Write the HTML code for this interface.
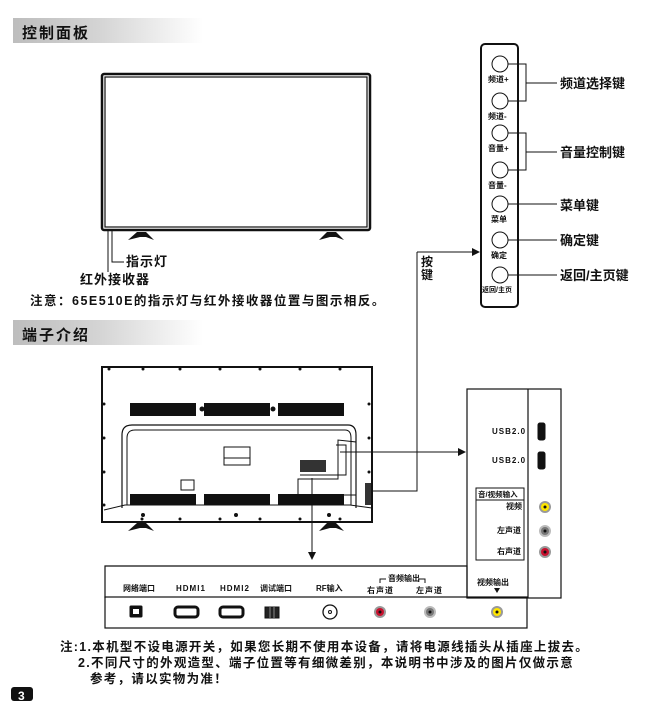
<!DOCTYPE html>
<html><head><meta charset="utf-8">
<style>
body{margin:0;width:668px;height:699px;background:#fff;position:relative;overflow:hidden;font-family:"Liberation Sans","Noto Sans CJK SC",sans-serif;color:#111}
.t{position:absolute;white-space:nowrap;line-height:1}
.hdr{position:absolute;left:13px;width:190px;height:25px;background:linear-gradient(90deg,#bdbdbd 0%,#d4d4d4 45%,#fff 100%)}
.hdr span{position:absolute;left:9px;top:4px;font-size:15px;font-weight:bold;letter-spacing:2px}
.s{font-size:8px;font-weight:bold}
.m{font-size:13px;font-weight:bold}
</style></head><body>
<div class="hdr" style="top:18px"><span>控制面板</span></div>
<div class="hdr" style="top:320px"><span>端子介绍</span></div>

<svg width="668" height="699" style="position:absolute;left:0;top:0" fill="none" stroke="#111">
<defs><pattern id="g" width="4" height="2" patternUnits="userSpaceOnUse"><rect width="4" height="1" fill="#333"/><rect y="1" width="4" height="1" fill="#888"/></pattern></defs>
<!-- front TV -->
<rect x="102" y="74" width="268" height="156" rx="2" stroke-width="2.5"/>
<rect x="105" y="77" width="262" height="150" stroke-width="1.2"/>
<path d="M128 240 L137 232 L146 232 L154 240 L146 237 L140 237 Z" fill="#111" stroke="none"/>
<path d="M319 240 L327 232 L336 232 L344 240 L336 237 L330 237 Z" fill="#111" stroke="none"/>
<path d="M112 231 V262 H124" stroke-width="1"/>
<path d="M108 231 V272" stroke-width="1"/>
<!-- control panel -->
<rect x="481" y="44" width="37" height="263" rx="4" stroke-width="2"/>
<g stroke-width="1" fill="#fff">
<circle cx="500" cy="64" r="8"/><circle cx="500" cy="101" r="8"/><circle cx="500" cy="133" r="8"/><circle cx="500" cy="170" r="8"/><circle cx="500" cy="204" r="8"/><circle cx="500" cy="240" r="8"/><circle cx="500" cy="275" r="8"/>
</g>
<g stroke-width="1">
<path d="M508 64 H526 V101 H508 M526 83 H557"/>
<path d="M508 133 H526 V170 H508 M526 152 H557"/>
<path d="M508 204 H557 M508 240 H557 M508 275 H557"/>
<path d="M417 252 H472 M417 252 V491 H373"/>
<path d="M340 452 H458"/>
<path d="M312 478 V552"/>
</g>
<path d="M472 248 L480 252 L472 256 Z M458 448 L466 452 L458 456 Z M308 552 L312 560 L316 552 Z" fill="#111" stroke="none"/>
<!-- back TV -->
<rect x="102" y="367" width="270" height="155" stroke-width="2"/>
<path d="M104 510 L125 505 L350 505 L372 508" stroke-width="1"/>
<path d="M122 508 V435 Q122 425 132 425 H348 Q356 425 356 435 V508" stroke-width="1.2"/>
<path d="M127 505 V438 Q127 430 135 430 H345 Q351 430 351 438 V505" stroke-width="1"/>
<g fill="url(#g)" stroke="none">
<rect x="130" y="403" width="66" height="13"/><rect x="204" y="403" width="66" height="13"/><rect x="278" y="403" width="66" height="13"/>
<rect x="130" y="494" width="66" height="11"/><rect x="204" y="494" width="66" height="11"/><rect x="278" y="494" width="66" height="11"/>
</g>
<g fill="#333" stroke="none">
<rect x="300" y="460" width="26" height="12"/>
<rect x="365" y="483" width="6" height="22"/>
</g>
<g stroke-width="1">
<rect x="224" y="447" width="26" height="18"/>
<path d="M224 458 H250"/>
<rect x="181" y="480" width="13" height="10"/>
<path d="M338 440 V479 H298 V495 H356 V442 Z"/>
<path d="M336 445 H346 V475 H300"/>
</g>
<g fill="#111" stroke="none">
<circle cx="109" cy="369" r="1.5"/><circle cx="143" cy="369" r="1.5"/><circle cx="180" cy="369" r="1.5"/><circle cx="220" cy="369" r="1.5"/><circle cx="260" cy="369" r="1.5"/><circle cx="300" cy="369" r="1.5"/><circle cx="340" cy="369" r="1.5"/>
<circle cx="104" cy="404" r="1.5"/><circle cx="104" cy="438" r="1.5"/><circle cx="104" cy="472" r="1.5"/><circle cx="104" cy="505" r="1.5"/>
<circle cx="369" cy="404" r="1.5"/><circle cx="369" cy="438" r="1.5"/><circle cx="369" cy="472" r="1.5"/>
<circle cx="142" cy="519" r="1.5"/><circle cx="180" cy="519" r="1.5"/><circle cx="220" cy="519" r="1.5"/><circle cx="260" cy="519" r="1.5"/><circle cx="300" cy="519" r="1.5"/><circle cx="340" cy="519" r="1.5"/>
<circle cx="143" cy="515" r="2"/><circle cx="329" cy="515" r="2"/><circle cx="236" cy="515" r="2"/>
<circle cx="202" cy="409" r="2.5"/><circle cx="273" cy="409" r="2.5"/>
<path d="M128 531 L137 523 L146 523 L154 531 L146 528 L140 528 Z"/>
<path d="M319 531 L327 523 L336 523 L344 531 L336 528 L330 528 Z"/>
</g>
<!-- side panel -->
<rect x="467" y="389" width="94" height="209" stroke-width="1.2"/>
<path d="M528 389 V598" stroke-width="1.2"/>
<rect x="476" y="488" width="48" height="72" stroke-width="1"/>
<path d="M476 500 H524" stroke-width="1"/>
<rect x="538" y="423" width="7" height="17" rx="2" fill="#111"/>
<rect x="538" y="452" width="7" height="17" rx="2" fill="#111"/>
<!-- bottom panel -->
<path d="M105 598 V566 H467 V598" stroke-width="1.2"/>
<rect x="105" y="597" width="422" height="31" stroke-width="1.2"/>
<path d="M380 583 V579 H386 M418 579 H425 V583" stroke-width="1"/>
<path d="M494 588 L500 588 L497 593 Z" fill="#111" stroke="none"/>
<rect x="130" y="606" width="12" height="11" rx="1" fill="#111"/>
<rect x="133" y="609" width="6" height="5" fill="#fff" stroke="none"/>
<rect x="175" y="607" width="23" height="10" rx="3" stroke-width="3"/>
<rect x="220" y="607" width="23" height="10" rx="3" stroke-width="3"/>
<rect x="265" y="607" width="14" height="11" fill="#222"/>
<path d="M270 607 V618 M274 607 V618" stroke="#888"/>
<circle cx="330" cy="612" r="7" stroke-width="1.3"/><circle cx="330" cy="612" r="1.5"/>
<g stroke="none">
<circle cx="380" cy="612" r="6" fill="#999"/><circle cx="380" cy="612" r="4" fill="#c8102e"/><circle cx="380" cy="612" r="1.5" fill="#111"/>
<circle cx="430" cy="612" r="6" fill="#bbb"/><circle cx="430" cy="612" r="4" fill="#777"/><circle cx="430" cy="612" r="1.5" fill="#111"/>
<circle cx="497" cy="612" r="6" fill="#999"/><circle cx="497" cy="612" r="4" fill="#ffe600"/><circle cx="497" cy="612" r="1.5" fill="#111"/>
<circle cx="545" cy="507" r="6" fill="#999"/><circle cx="545" cy="507" r="4" fill="#ffe600"/><circle cx="545" cy="507" r="1.5" fill="#111"/>
<circle cx="545" cy="531" r="6" fill="#bbb"/><circle cx="545" cy="531" r="4" fill="#777"/><circle cx="545" cy="531" r="1.5" fill="#111"/>
<circle cx="545" cy="552" r="6" fill="#999"/><circle cx="545" cy="552" r="4" fill="#c8102e"/><circle cx="545" cy="552" r="1.5" fill="#111"/>
</g>
</svg>

<div class="t" style="left:126px;top:255px;font-size:13px;font-weight:bold;letter-spacing:1px">指示灯</div>
<div class="t" style="left:80px;top:273px;font-size:13px;font-weight:bold;letter-spacing:1px">红外接收器</div>
<div class="t" style="left:30px;top:295px;font-size:12.5px;font-weight:bold;letter-spacing:1.5px">注意：65E510E的指示灯与红外接收器位置与图示相反。</div>

<div class="t s" style="left:488px;top:76px">频道+</div>
<div class="t s" style="left:488px;top:113px">频道-</div>
<div class="t s" style="left:488px;top:145px">音量+</div>
<div class="t s" style="left:488px;top:182px">音量-</div>
<div class="t s" style="left:491px;top:216px">菜单</div>
<div class="t s" style="left:491px;top:252px">确定</div>
<div class="t" style="left:482px;top:287px;font-size:7px;font-weight:bold">返回/主页</div>
<div class="t m" style="left:560px;top:77px">频道选择键</div>
<div class="t m" style="left:560px;top:146px">音量控制键</div>
<div class="t m" style="left:560px;top:199px">菜单键</div>
<div class="t m" style="left:560px;top:234px">确定键</div>
<div class="t m" style="left:560px;top:269px">返回/主页键</div>
<div class="t" style="left:421px;top:256px;font-size:12px;font-weight:bold;line-height:13px">按<br>键</div>

<div class="t s" style="left:492px;top:428px;letter-spacing:1px">USB2.0</div>
<div class="t s" style="left:492px;top:457px;letter-spacing:1px">USB2.0</div>
<div class="t" style="left:478px;top:491px;font-size:7.5px;font-weight:bold">音/视频输入</div>
<div class="t s" style="left:506px;top:503px">视频</div>
<div class="t s" style="left:497px;top:527px">左声道</div>
<div class="t s" style="left:497px;top:548px">右声道</div>
<div class="t s" style="left:477px;top:579px">视频输出</div>

<div class="t s" style="left:123px;top:585px">网络端口</div>
<div class="t s" style="left:176px;top:585px;letter-spacing:1px">HDMI1</div>
<div class="t s" style="left:220px;top:585px;letter-spacing:1px">HDMI2</div>
<div class="t s" style="left:260px;top:585px">调试端口</div>
<div class="t s" style="left:316px;top:585px">RF输入</div>
<div class="t s" style="left:388px;top:575px">音频输出</div>
<div class="t s" style="left:367px;top:587px;letter-spacing:1px">右声道</div>
<div class="t s" style="left:416px;top:587px;letter-spacing:1px">左声道</div>

<div class="t" style="left:60px;top:641px;font-size:12.5px;font-weight:bold;letter-spacing:1.3px">注:1.本机型不设电源开关，如果您长期不使用本设备，请将电源线插头从插座上拔去。</div>
<div class="t" style="left:78px;top:657px;font-size:12.5px;font-weight:bold;letter-spacing:1.3px">2.不同尺寸的外观造型、端子位置等有细微差别，本说明书中涉及的图片仅做示意</div>
<div class="t" style="left:90px;top:673px;font-size:12.5px;font-weight:bold;letter-spacing:1.3px">参考，请以实物为准！</div>
<div style="position:absolute;left:11px;top:687px;width:22px;height:14px;background:#111;border-radius:3px"></div>
<div class="t" style="left:18px;top:690px;font-size:12px;font-weight:bold;color:#fff">3</div>
</body></html>
